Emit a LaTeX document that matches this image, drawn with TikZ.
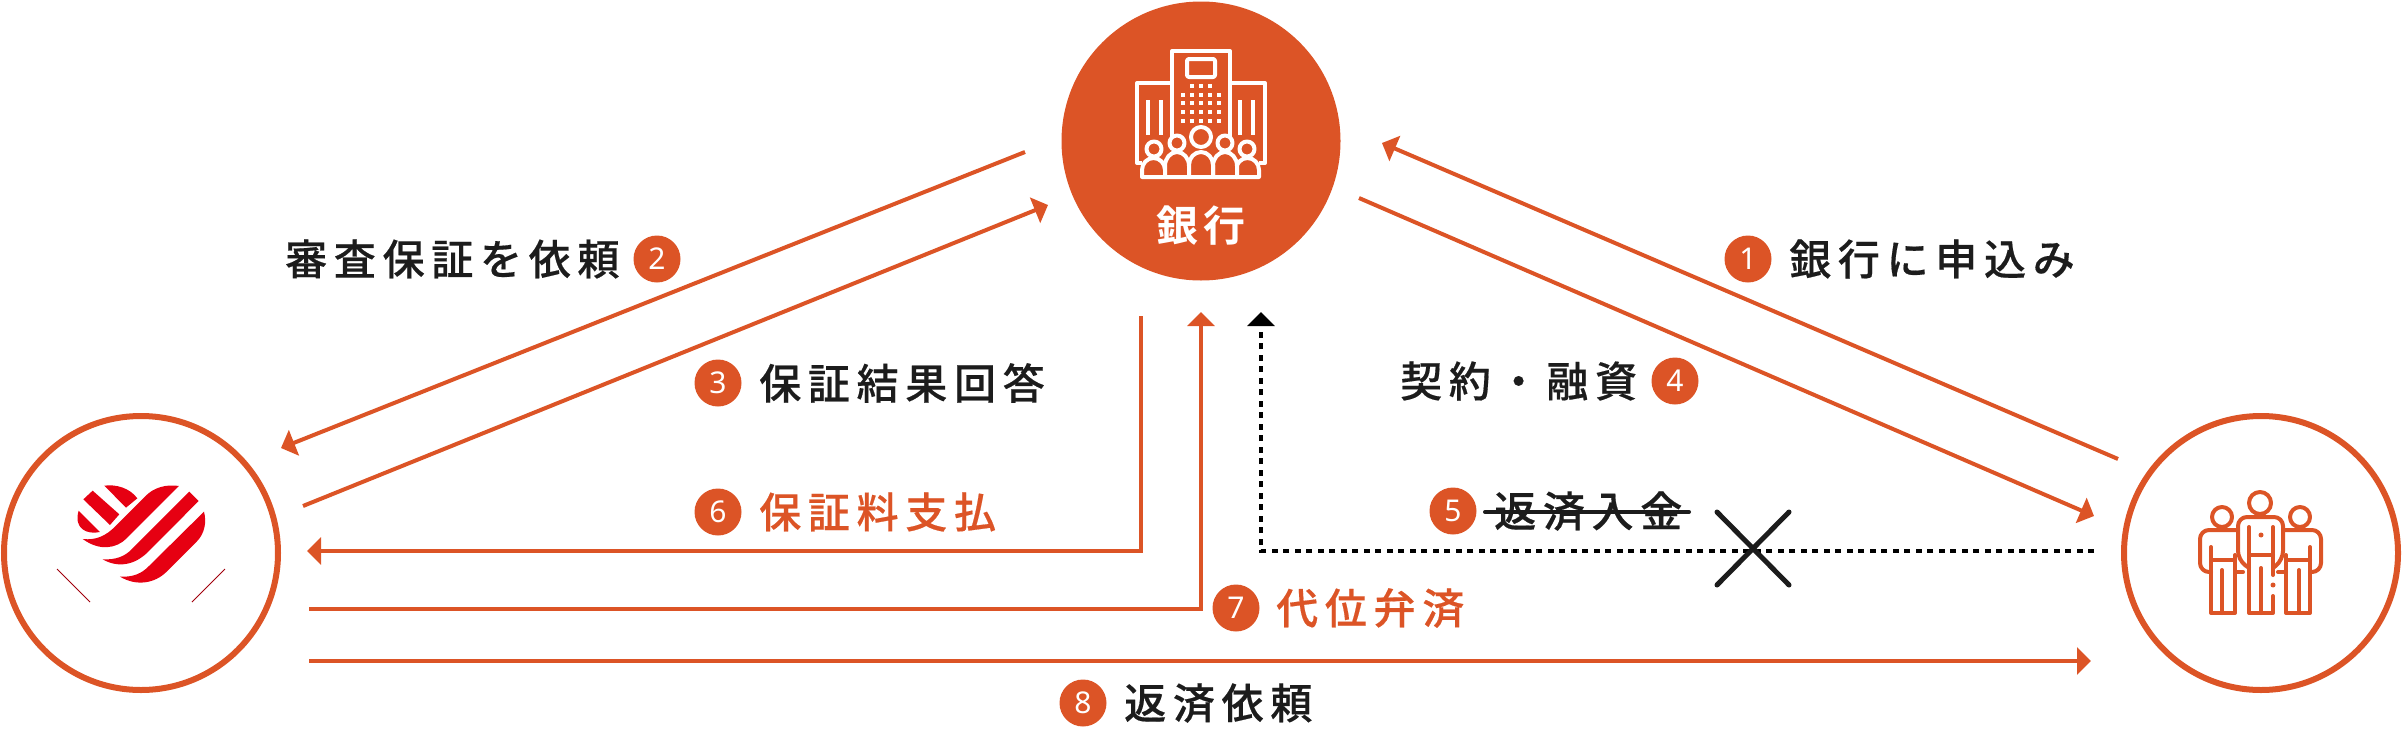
\documentclass[tikz,border=0pt]{standalone}
\usepackage{fontspec}
\newfontfamily\jpfont[LetterSpace=16,FakeBold=0.4]{Noto Sans CJK JP Medium}
\newfontfamily\jpbold{Noto Sans CJK JP Bold}
\newfontfamily\numfont{Noto Sans}
\usetikzlibrary{arrows.meta}
\definecolor{rust}{HTML}{DC5426}
\definecolor{heartred}{HTML}{E60012}
\definecolor{ink}{HTML}{1C1C1C}
\tikzset{
    hub/.style={circle,draw=rust,line width=6pt,minimum size=274pt,inner sep=0pt},
    badge/.style={circle,fill=rust,text=white,minimum size=47pt,inner sep=0pt,font=\fontsize{30}{30}\selectfont\numfont},
    lbl/.style={anchor=west,inner sep=0pt,text=ink,font=\fontsize{42}{42}\selectfont\jpfont},
    lblred/.style={lbl,text=rust},
    flow/.style={draw=rust,line width=4pt,-{Triangle[length=14pt,width=27pt]}},
    dotflow/.style={draw=black,line width=4pt,dash pattern=on 6pt off 5.5pt,-{Triangle[length=14pt,width=27pt]}},
    iconbank/.style={draw=white,line width=4pt,line join=round},
    iconpeople/.style={draw=rust,line width=4pt,line join=round,line cap=round}
}
\begin{document}
\begin{tikzpicture}[x=1pt,y=-1pt]
            \useasboundingbox (0,0) rectangle (2402,731);
            \node[circle,fill=rust,minimum size=279pt,inner sep=0pt] (bank) at (1201,141) {};
            \node[hub] (guar) at (141,553) {};
            \node[hub] (cust) at (2261,553) {};
            \node[inner sep=0pt,text=white,font=\fontsize{42}{42}\selectfont\jpbold] (banktxt) at (1201,226) {銀\hspace{5pt}行};

            \coordinate (s1) at (2118,459);
            \coordinate (e1) at (1382,143);
            \coordinate (s2) at (1025,152);
            \coordinate (e2) at (281,448);
            \coordinate (s3) at (303,506);
            \coordinate (e3) at (1048,205);
            \coordinate (s4) at (1359,198);
            \coordinate (e4) at (2094,516);
            \coordinate (s5) at (2094,551);
            \coordinate (m5) at (1261,551);
            \coordinate (e5) at (1261,312);
            \coordinate (s6) at (1141,316);
            \coordinate (m6) at (1141,551);
            \coordinate (e6) at (307,551);
            \coordinate (s7) at (309,609);
            \coordinate (m7) at (1201,609);
            \coordinate (e7) at (1201,312);
            \coordinate (s8) at (309,661);
            \coordinate (e8) at (2091,661);
            \draw[flow] (s1)--(e1);
            \draw[flow] (s2)--(e2);
            \draw[flow] (s3)--(e3);
            \draw[flow] (s4)--(e4);
            \draw[dotflow] (s5)--(m5)--(e5);
            \draw[flow] (s6)--(m6)--(e6);
            \draw[flow] (s7)--(m7)--(e7);
            \draw[flow] (s8)--(e8);

            \node[badge] (b1) at (1748,259) {1};
            \node[lbl] (t1) at (1789,259) {銀行に申込み};
            \node[badge] (b2) at (657,259) {2};
            \node[lbl] (t2) at (285,259) {審査保証を依頼};
            \node[badge] (b3) at (718,383) {3};
            \node[lbl] (t3) at (759,383) {保証結果回答};
            \node[badge] (b4) at (1675,381) {4};
            \node[lbl] (t4) at (1400,381) {契約・融資};
            \node[badge] (b5) at (1453,511) {5};
            \node[lbl] (t5) at (1494,511) {返済入金};
            \node[badge] (b6) at (718,512) {6};
            \node[lblred] (t6) at (759,512) {保証料支払};
            \node[badge] (b7) at (1236,608) {7};
            \node[lblred] (t7) at (1276,608) {代位弁済};
            \node[badge] (b8) at (1083,703) {8};
            \node[lbl] (t8) at (1124,703) {返済依頼};

            \draw[ink,line width=4pt,line cap=round] (1485,512)--(1689,512);
            \draw[ink,line width=5pt,line cap=round] (1717,512)--(1789,585);
            \draw[ink,line width=5pt,line cap=round] (1789,512)--(1717,585);

            \draw[iconbank] (1172,137)--(1172,51)--(1230,51)--(1230,137);
            \draw[iconbank] (1172,83)--(1137,83)--(1137,163)--(1142,163);
            \draw[iconbank] (1230,83)--(1265,83)--(1265,163)--(1259,163);
            \draw[iconbank,rounded corners=2pt] (1187,59) rectangle (1215,77);
            \foreach \wx in {1192,1201,1210}
                \fill[white] (\wx-2,84) rectangle +(4,4);
            \foreach \wy in {95,103,112,121}
                \foreach \wx in {1183,1192,1201,1210,1219}
                    \fill[white] (\wx-2,\wy-2) rectangle +(4,4);
            \foreach \wx in {1148,1161,1240,1253}
                \draw[white,line width=3.5pt] (\wx,100)--(\wx,135);
            \draw[iconbank,fill=rust] (1142,177)--(1142,170) arc[start angle=180,end angle=360,x radius=11.5,y radius=12]--(1165,177)--cycle;
            \draw[iconbank,fill=rust] (1236,177)--(1236,170) arc[start angle=180,end angle=360,x radius=11.5,y radius=12]--(1259,177)--cycle;
            \draw[iconbank,fill=rust] (1165,177)--(1165,166) arc[start angle=180,end angle=360,x radius=12,y radius=14]--(1189,177)--cycle;
            \draw[iconbank,fill=rust] (1213,177)--(1213,166) arc[start angle=180,end angle=360,x radius=12,y radius=14]--(1237,177)--cycle;
            \draw[iconbank,fill=rust] (1189,177)--(1189,165) arc[start angle=180,end angle=360,x radius=12,y radius=13]--(1213,177)--cycle;
            \draw[iconbank,fill=rust] (1201,137) circle[radius=10];
            \draw[iconbank,fill=rust] (1177,143) circle[radius=7.5];
            \draw[iconbank,fill=rust] (1225,143) circle[radius=7.5];
            \draw[iconbank,fill=rust] (1154,149) circle[radius=7.5];
            \draw[iconbank,fill=rust] (1247,149) circle[radius=7.5];

            \begin{scope}[shift={(60,470)},x=0.3333pt,y=-0.3333pt]
                \fill[heartred] (133,47) .. controls (170,42) and (210,55) .. (232,85)--(198,113)--cycle;
                \fill[heartred] (70,88)--(98,62)--(178,133)--(150,165)--cycle;
                \fill[heartred] (56,122)--(120,186) .. controls (80,195) and (40,175) .. (56,122)--cycle;
                \fill[heartred] (68,207) .. controls (110,212) and (140,195) .. (165,170)--(255,80) .. controls (280,52) and (320,42) .. (357,48)--(200,205) .. controls (170,235) and (120,245) .. (68,207)--cycle;
                \fill[heartred] (128,268) .. controls (170,270) and (195,258) .. (215,238)--(388,65)--(416,93)--(265,245) .. controls (225,285) and (175,295) .. (128,268)--cycle;
                \fill[heartred] (180,320) .. controls (220,322) and (245,310) .. (265,290)--(432,125) .. controls (440,155) and (435,190) .. (410,215)--(320,305) .. controls (285,340) and (230,350) .. (180,320)--cycle;
            \end{scope}
            \draw[heartred!70!black,line width=1pt] (57,569)--(90,602);
            \draw[heartred!70!black,line width=1pt] (225,569)--(192,602);

            \draw[iconpeople] (2260,503) circle[radius=11];
            \draw[iconpeople] (2222,517) circle[radius=10];
            \draw[iconpeople] (2300,517) circle[radius=10];
            \draw[iconpeople,rounded corners=9pt] (2249,568)--(2238,560)--(2238,517)--(2283,517)--(2283,560)--(2273,568);
            \draw[iconpeople] (2249,527)--(2249,613)--(2273,613)--(2273,596);
            \draw[iconpeople] (2273,527)--(2273,575);
            \draw[iconpeople] (2249,555)--(2273,555);
            \draw[iconpeople] (2261,568)--(2261,613);
            \fill[rust] (2261,535) circle[radius=2.5];
            \fill[rust] (2273,585) circle[radius=2.5];
            \draw[iconpeople,rounded corners=9pt] (2238,530)--(2200,530)--(2200,572)--(2211,572);
            \draw[iconpeople] (2211,547)--(2211,613)--(2235,613)--(2235,555);
            \draw[iconpeople] (2211,560)--(2235,560);
            \draw[iconpeople] (2222,570)--(2222,613);
            \draw[iconpeople] (2235,572)--(2243,572);
            \draw[iconpeople,rounded corners=9pt] (2283,530)--(2321,530)--(2321,572)--(2310,572);
            \draw[iconpeople] (2310,547)--(2310,613)--(2286,613)--(2286,555);
            \draw[iconpeople] (2286,560)--(2310,560);
            \draw[iconpeople] (2299,570)--(2299,613);
            \draw[iconpeople] (2286,572)--(2278,572);
        \end{tikzpicture}
\end{document}
